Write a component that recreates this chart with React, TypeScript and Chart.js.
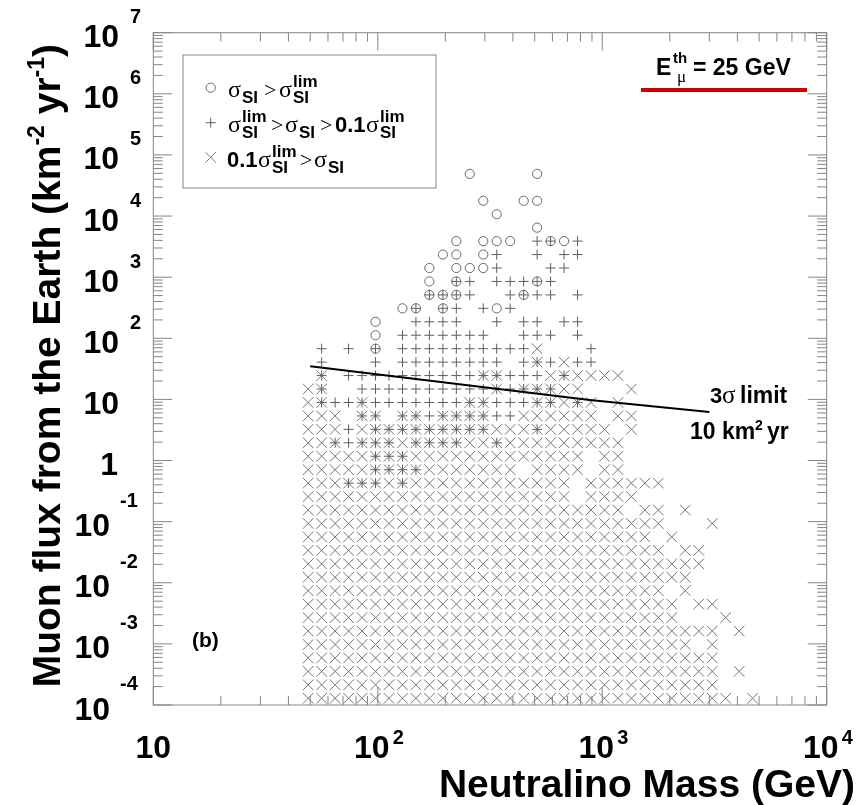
import React, { useEffect, useRef } from 'react';
import { Chart, registerables } from 'chart.js';

Chart.register(...registerables);

// ---- binning of the model scan (log10 units) ----
const MASS_LOG_MIN = 1; // 10 GeV
const MASS_LOG_STEP = 0.06; // 50 bins over 10 GeV - 10 TeV
const FLUX_LOG_MIN = -4; // 1e-4 km^-2 yr^-1
const FLUX_LOG_STEP = 0.22; // 50 bins over 1e-4 - 1e7
const FIRST_MASS_BIN = 11; // mass bin of the first character of each row
const TOP_FLUX_BIN = 39; // flux bin of the first row

// Occupied (mass, flux) cells, highest flux bin first.
// x : 0.1 sigma_lim > sigma     + : sigma_lim > sigma > 0.1 sigma_lim
// o : sigma > sigma_lim         * : both + and x     @ : both o and +
const fluxBinRows: string[] = [
  '............o....o',
  '',
  '.............o..oo',
  '..............o',
  '.................o',
  '...........o.ooo.+@o+',
  '..........oo.o+..+.++',
  '.........o.ooo+...++',
  '.........o.@+.+++@+',
  '.........@@@+..+@++.+',
  '.......o@.@+.+o+',
  '.....o..++++..+.++.++',
  '.....o.+++++++..+++.+',
  '.+.+.@.++++++++++x...+',
  '.+...+.++++++++.+*+x++',
  '.*.++++++++++**+++x*xxxx',
  'x*..++++++++++*+***xx...x',
  'x*++*+++++++**+++**x*x.x',
  'xxx.**.**+****++xxxxxx.xx',
  'xxx+x*********xxx*xxxxx.x',
  'xx*+***x****xx*xxxxxxxxx',
  'xxxxx***xxxxxxxxxxxxx.xx',
  'xxxxx****xxxxxxx.xxxx.xx',
  'xxx***x*xxxxxxxxxxxx.xxxxxx',
  'xxxxxxxxxxxxxxxxxxxx.xxxx',
  'xxxxxxxxxxxxxxxxxxxxxxxx.xx.x',
  'xxxxxxxxxxxxxxxxxxxxxxxxxxx...x',
  'xxxxxxxxxxxxxxxxxxxxxxxxxx.x',
  'xxxxxxxxxxxxxxxxxxxxxxxxxxx.xx',
  'xxxxxxxxxxxxxxxxxxxxxxxxxxxxxx',
  'xxxxxxxxxxxxxxxxxxxxxxxxxxxxx',
  'xxxxxxxxxxxxxxxxxxxxxxxxxxx.x',
  'xxxxxxxxxxxxxxxxxxxxxxxxxxxx.xx',
  'xxxxxxxxxxxxxxxxxxxxxxxxxxxx...x',
  'xxxxxxxxxxxxxxxxxxxxxxxxxxxxxxx.x',
  'xxxxxxxxxxxxxxxxxxxxxxxxxxxxx.x',
  'xxxxxxxxxxxxxxxxxxxxxxxxxxxxxxx',
  'xxxxxxxxxxxxxxxxxxxxxxxxxxxxxxx.x',
  'xxxxxxxxxxxxxxxxxxxxxxxxxxxxxxx',
  'xxxxxxxxxxxxxxxxxxxxxxxxxxxxxxxx.x',
];

// 3 sigma discovery limit for an exposure of 10 km^2 yr
const limitMass = [50, 880, 3000];
const limitFlux = [35, 9.8, 6.2];

// axis decades (powers of ten that carry a label)
const massDecades = [1, 2, 3, 4];
const fluxDecades = [-4, -3, -2, -1, 0, 1, 2, 3, 4, 5, 6, 7];

const SANS = '"Liberation Sans", Arial, Helvetica, sans-serif';
const SERIF = '"Liberation Serif", "Times New Roman", serif';
const FRAME = '#858585';
const CROSS_COLOR = '#767676';
const PLUS_COLOR = '#5e5e5e';
const CIRCLE_COLOR = '#6a6a6a';

type Pt = { x: number; y: number };

function cellsOf(kinds: string): Pt[] {
  const pts: Pt[] = [];
  fluxBinRows.forEach((row, r) => {
    const j = TOP_FLUX_BIN - r;
    for (let k = 0; k < row.length; k++) {
      if (kinds.includes(row[k])) {
        const i = FIRST_MASS_BIN + k;
        pts.push({
          x: Math.pow(10, MASS_LOG_MIN + MASS_LOG_STEP * (i + 0.5)),
          y: Math.pow(10, FLUX_LOG_MIN + FLUX_LOG_STEP * (j + 0.5)),
        });
      }
    }
  });
  return pts;
}

type Piece = [string, string, number, number];

function drawPieces(ctx: CanvasRenderingContext2D, pieces: Piece[]) {
  for (const [t, f, x, y] of pieces) {
    ctx.font = f;
    ctx.fillText(t, x, y);
  }
}

function marker(ctx: CanvasRenderingContext2D, kind: string, x: number, y: number) {
  ctx.beginPath();
  if (kind === 'o') {
    ctx.strokeStyle = CIRCLE_COLOR;
    ctx.arc(x, y, 4.6, 0, Math.PI * 2);
  } else if (kind === '+') {
    ctx.strokeStyle = PLUS_COLOR;
    ctx.moveTo(x - 5, y);
    ctx.lineTo(x + 5, y);
    ctx.moveTo(x, y - 5);
    ctx.lineTo(x, y + 5);
  } else {
    ctx.strokeStyle = CROSS_COLOR;
    const d = 5.3;
    ctx.moveTo(x - d, y - d);
    ctx.lineTo(x + d, y + d);
    ctx.moveTo(x + d, y - d);
    ctx.lineTo(x - d, y + d);
  }
  ctx.stroke();
}

const decorations = {
  id: 'decorations',
  beforeDraw(chart: any) {
    const ctx = chart.ctx as CanvasRenderingContext2D;
    ctx.save();
    ctx.fillStyle = '#ffffff';
    ctx.fillRect(0, 0, chart.width, chart.height);
    ctx.restore();
  },
  afterDatasetsDraw(chart: any) {
    const ctx = chart.ctx as CanvasRenderingContext2D;
    const a = chart.chartArea;
    const xs = chart.scales.x;
    const ys = chart.scales.y;
    ctx.save();

    // frame
    ctx.strokeStyle = FRAME;
    ctx.lineWidth = 1;
    ctx.strokeRect(a.left, a.top, a.right - a.left, a.bottom - a.top);

    // ticks on all four sides, pointing inwards
    ctx.beginPath();
    const lastMass = massDecades[massDecades.length - 1];
    for (const e of massDecades) {
      for (let m = 1; m <= 9; m++) {
        if (e === lastMass && m > 1) break;
        const px = xs.getPixelForValue(m * Math.pow(10, e));
        const len = m === 1 ? 18 : 9;
        ctx.moveTo(px, a.bottom);
        ctx.lineTo(px, a.bottom - len);
        ctx.moveTo(px, a.top);
        ctx.lineTo(px, a.top + len);
      }
    }
    const lastFlux = fluxDecades[fluxDecades.length - 1];
    for (const e of fluxDecades) {
      for (let m = 1; m <= 9; m++) {
        if (e === lastFlux && m > 1) break;
        const py = ys.getPixelForValue(m * Math.pow(10, e));
        const len = m === 1 ? 19 : 9.5;
        ctx.moveTo(a.left, py);
        ctx.lineTo(a.left + len, py);
        ctx.moveTo(a.right, py);
        ctx.lineTo(a.right - len, py);
      }
    }
    ctx.stroke();

    ctx.fillStyle = '#000000';
    ctx.textBaseline = 'alphabetic';
    const big = `bold 32px ${SANS}`;
    const exp = `bold 20px ${SANS}`;

    // y tick labels
    for (const e of fluxDecades) {
      const py = ys.getPixelForValue(Math.pow(10, e));
      ctx.font = big;
      ctx.textAlign = 'right';
      if (e === 0) {
        ctx.fillText('1', 118, py + 14.5);
      } else if (e === 1) {
        ctx.fillText('10', 119, py + 14.5);
      } else if (e > 1) {
        ctx.fillText('10', 119, py + 14.5);
        ctx.font = exp;
        ctx.textAlign = 'left';
        ctx.fillText(String(e), 130, py - 9.5);
      } else {
        ctx.fillText('10', 110, py + 14.5);
        ctx.font = exp;
        ctx.textAlign = 'left';
        ctx.fillText(String(e), 120, py - 15);
      }
    }

    // x tick labels
    for (const e of massDecades) {
      const px = xs.getPixelForValue(Math.pow(10, e));
      ctx.font = big;
      ctx.textAlign = 'center';
      if (e === 1) {
        ctx.fillText('10', px, 758);
      } else {
        ctx.fillText('10', px - 6, 758);
        ctx.font = exp;
        ctx.textAlign = 'left';
        ctx.fillText(String(e), px + 15, 744);
      }
    }

    // axis titles
    ctx.textAlign = 'right';
    ctx.font = `bold 39px ${SANS}`;
    ctx.fillText('Neutralino Mass (GeV)', 855, 797);

    const titleFont = `bold 39px ${SANS}`;
    const supFont = `bold 23px ${SANS}`;
    const parts: [string, string, number][] = [
      ['Muon flux from the Earth (km', titleFont, 0],
      ['-2', supFont, -16],
      [' yr', titleFont, 0],
      ['-1', supFont, -16],
      [')', titleFont, 0],
    ];
    let total = 0;
    for (const [t, f] of parts) {
      ctx.font = f;
      total += ctx.measureText(t).width;
    }
    ctx.save();
    ctx.translate(60, 44);
    ctx.rotate(-Math.PI / 2);
    ctx.textAlign = 'left';
    let cx = -total;
    for (const [t, f, dy] of parts) {
      ctx.font = f;
      ctx.fillText(t, cx, dy);
      cx += ctx.measureText(t).width;
    }
    ctx.restore();

    // legend box
    ctx.textAlign = 'left';
    ctx.fillStyle = '#ffffff';
    ctx.fillRect(183, 55, 253, 133);
    ctx.strokeStyle = FRAME;
    ctx.lineWidth = 1;
    ctx.strokeRect(183, 55, 253, 133);
    marker(ctx, 'o', 210.7, 87.7);
    marker(ctx, '+', 210.7, 122.7);
    marker(ctx, 'x', 210.7, 157.3);

    ctx.fillStyle = '#000000';
    const sg = `normal 24px ${SERIF}`;
    const gt = `normal 22px ${SERIF}`;
    const sm = `bold 17px ${SANS}`;
    const num = `bold 22px ${SANS}`;
    const b1 = 96.7;
    const b2 = 131.7;
    const b3 = 166.7;
    drawPieces(ctx, [
      ['σ', sg, 228, b1],
      ['SI', sm, 242, b1 + 6],
      ['>', gt, 264, b1],
      ['σ', sg, 279, b1],
      ['lim', sm, 293, b1 - 10],
      ['SI', sm, 293, b1 + 6],

      ['σ', sg, 228, b2],
      ['lim', sm, 242, b2 - 10],
      ['SI', sm, 242, b2 + 6],
      ['>', gt, 271, b2],
      ['σ', sg, 285, b2],
      ['SI', sm, 299, b2 + 6],
      ['>', gt, 320, b2],
      ['0.1', num, 335, b2],
      ['σ', sg, 366, b2],
      ['lim', sm, 380, b2 - 10],
      ['SI', sm, 380, b2 + 6],

      ['0.1', num, 227, b3],
      ['σ', sg, 258, b3],
      ['lim', sm, 272, b3 - 10],
      ['SI', sm, 272, b3 + 6],
      ['>', gt, 300, b3],
      ['σ', sg, 314, b3],
      ['SI', sm, 328, b3 + 6],
    ]);

    // threshold energy label with its red line
    drawPieces(ctx, [
      ['E', `bold 23px ${SANS}`, 656, 75],
      ['th', `bold 15px ${SANS}`, 673, 63],
      ['μ', `normal 17px ${SERIF}`, 677, 82],
      ['= 25 GeV', `bold 23px ${SANS}`, 693, 75],
    ]);
    ctx.strokeStyle = '#cc0000';
    ctx.lineWidth = 4;
    ctx.beginPath();
    ctx.moveTo(641, 90);
    ctx.lineTo(807, 90);
    ctx.stroke();

    // limit annotation
    drawPieces(ctx, [
      ['3', `bold 22px ${SANS}`, 710, 403],
      ['σ', `normal 25px ${SERIF}`, 722, 403],
      ['limit', `bold 23px ${SANS}`, 740, 403],
      ['10 km', `bold 23px ${SANS}`, 690, 439],
      ['2', `bold 14px ${SANS}`, 755, 430],
      ['yr', `bold 23px ${SANS}`, 767, 439],
    ]);

    // panel tag
    drawPieces(ctx, [['(b)', `bold 21px ${SANS}`, 192, 647]]);

    ctx.restore();
  },
};

export default function App() {
  const ref = useRef<HTMLCanvasElement>(null);

  useEffect(() => {
    const canvas = ref.current;
    if (!canvas) return;
    const crossCells = cellsOf('x*');
    const plusCells = cellsOf('+*@');
    const circleCells = cellsOf('o@');
    const limitLine = limitMass.map((m, i) => ({ x: m, y: limitFlux[i] }));

    const chart = new Chart(canvas, {
      type: 'scatter',
      data: {
        datasets: [
          {
            label: '0.1σlim > σ',
            data: crossCells,
            pointStyle: 'crossRot',
            pointRadius: 7.5,
            pointBorderWidth: 1,
            pointBorderColor: CROSS_COLOR,
            pointBackgroundColor: 'transparent',
            order: 3,
          },
          {
            label: 'σlim > σ > 0.1σlim',
            data: plusCells,
            pointStyle: 'cross',
            pointRadius: 5,
            pointBorderWidth: 1,
            pointBorderColor: PLUS_COLOR,
            pointBackgroundColor: 'transparent',
            order: 2,
          },
          {
            label: 'σ > σlim',
            data: circleCells,
            pointStyle: 'circle',
            pointRadius: 4.6,
            pointBorderWidth: 1,
            pointBorderColor: CIRCLE_COLOR,
            pointBackgroundColor: 'transparent',
            order: 1,
          },
          {
            label: '3σ limit',
            data: limitLine,
            showLine: true,
            borderColor: '#000000',
            borderWidth: 2,
            pointRadius: 0,
            order: 0,
          },
        ],
      } as any,
      options: {
        responsive: false,
        animation: false,
        devicePixelRatio: 1,
        layout: { padding: { left: 153.3, right: 40.3, top: 32.7, bottom: 100 } },
        scales: {
          x: { type: 'logarithmic', min: 10, max: 10000, display: false },
          y: { type: 'logarithmic', min: 1e-4, max: 1e7, display: false },
        },
        plugins: {
          legend: { display: false },
          tooltip: { enabled: false },
        },
        events: [],
      } as any,
      plugins: [decorations],
    });
    return () => chart.destroy();
  }, []);

  return (
    <canvas
      ref={ref}
      width={867}
      height={805}
      style={{ position: 'absolute', left: 0, top: 0, width: 867, height: 805 }}
    />
  );
}
